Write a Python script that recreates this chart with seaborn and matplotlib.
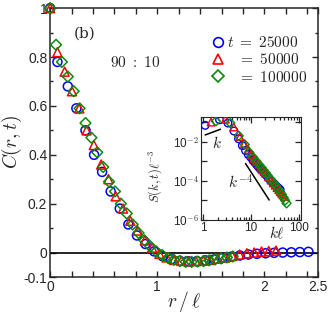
import numpy as np
import pandas as pd
import seaborn as sns
import matplotlib
matplotlib.use('Agg')
import matplotlib.pyplot as plt
from matplotlib.lines import Line2D

# ---------------- data ----------------
# main panel: C(r,t) vs r/l
r_25k = [0, 0.068, 0.165, 0.245, 0.33, 0.41, 0.485, 0.565, 0.65, 0.73, 0.81, 0.89, 0.97,
         1.05, 1.13, 1.21, 1.29, 1.37, 1.45, 1.53, 1.61, 1.69, 1.77, 1.85, 1.93, 2.01,
         2.09, 2.17, 2.25, 2.33, 2.41]
C_25k = [1.0, 0.78, 0.68, 0.59, 0.50, 0.40, 0.33, 0.25, 0.18, 0.115, 0.07, 0.035, 0.005,
         -0.015, -0.028, -0.034, -0.036, -0.035, -0.032, -0.028, -0.022, -0.017, -0.012,
         -0.008, -0.005, -0.003, -0.001, 0.0, 0.001, 0.002, 0.003]

r_50k = [0, 0.068, 0.136, 0.204, 0.272, 0.34, 0.408, 0.476, 0.544, 0.612, 0.68, 0.748,
         0.816, 0.884, 0.952, 1.02, 1.088, 1.156, 1.224, 1.292, 1.36, 1.428, 1.496, 1.564,
         1.632, 1.70, 1.768, 1.836, 1.904, 1.972, 2.04, 2.108]
C_50k = [1.0, 0.82, 0.74, 0.66, 0.59, 0.50, 0.44, 0.36, 0.30, 0.23, 0.18, 0.13, 0.09,
         0.05, 0.02, -0.005, -0.02, -0.03, -0.034, -0.036, -0.035, -0.033, -0.03, -0.025,
         -0.02, -0.014, -0.008, -0.003, 0.0, 0.004, 0.006, 0.008]

r_100k = [0, 0.055, 0.11, 0.165, 0.22, 0.275, 0.33, 0.385, 0.44, 0.495, 0.55, 0.605, 0.66,
          0.715, 0.77, 0.825, 0.88, 0.935, 0.99, 1.045, 1.10, 1.155, 1.21, 1.265, 1.32,
          1.375, 1.43, 1.485, 1.54, 1.595, 1.65, 1.705]
C_100k = [1.0, 0.85, 0.78, 0.72, 0.66, 0.59, 0.53, 0.47, 0.41, 0.35, 0.29, 0.25, 0.20,
          0.16, 0.115, 0.08, 0.05, 0.025, 0.005, -0.01, -0.022, -0.03, -0.035, -0.038,
          -0.038, -0.037, -0.035, -0.032, -0.028, -0.024, -0.02, -0.016]

# inset: S(k,t) l^-3 vs k l
k_25k = [1.1, 2.2, 3.3, 4.4, 5.5, 6.6, 7.7, 8.8, 9.9, 11, 12.1, 13.2, 14.3, 15.4, 16.5,
         18.7, 20.9, 23.1, 25.3, 27.5, 29.7, 31.9, 34.1, 36.3, 38.5, 40.7]
S_25k = [6.8e-2, 1.3e-1, 8.9e-2, 3.5e-2, 1.4e-2, 6.3e-3, 3.5e-3, 2.2e-3, 1.6e-3, 1.1e-3,
         8.5e-4, 6.6e-4, 5.2e-4, 4.3e-4, 3.5e-4, 2.5e-4, 1.9e-4, 1.4e-4, 1.1e-4, 8.9e-5,
         7.4e-5, 6.3e-5, 5.2e-5, 4.5e-5, 4.0e-5, 3.5e-5]

k_50k = [1.46, 2.92, 4.38, 5.84, 7.3, 8.76, 10.2, 11.7, 13.1, 14.6, 16.1, 17.5, 19.0, 20.4,
         23.4, 26.3, 29.2, 32.1, 35.0, 38.0, 40.9, 43.8, 46.7, 49.6]
S_50k = [1.0e-1, 1.4e-1, 5.6e-2, 1.8e-2, 7.9e-3, 4.0e-3, 2.2e-3, 1.4e-3, 1.0e-3, 7.1e-4,
         5.0e-4, 3.8e-4, 3.0e-4, 2.4e-4, 1.6e-4, 1.1e-4, 7.9e-5, 6.0e-5, 4.5e-5, 3.5e-5,
         2.8e-5, 2.3e-5, 1.9e-5, 1.6e-5]

k_100k = [1.85, 3.7, 5.55, 7.4, 9.25, 11.1, 12.95, 14.8, 16.65, 18.5, 20.35, 22.2, 25.9,
          29.6, 33.3, 37.0, 40.7, 44.4, 48.1, 51.8, 55.5]
S_100k = [1.1e-1, 8.9e-2, 2.0e-2, 7.1e-3, 2.8e-3, 1.6e-3, 1.0e-3, 6.6e-4, 4.7e-4, 3.4e-4,
          2.5e-4, 1.9e-4, 1.2e-4, 7.9e-5, 5.4e-5, 3.8e-5, 2.7e-5, 2.0e-5, 1.4e-5, 1.0e-5,
          7.1e-6]

labels = [r'$t\ =\ 25000$', r'$\ \,\ =\ 50000$', r'$\ \,\ =\ 100000$']
colors = ['#0000ff', '#ff0000', '#0a8a0a']
markers = ['o', '^', 'D']

# guide lines in the inset (k and k^-4)
guide_k_x = [1.1, 2.3]
guide_k_y = [2.2e-2, 4.3e-2]
guide_k4_x = [7.7, 24]
guide_k4_y = [7.6e-4, 1.05e-5]

#-----------------------------------------------------------------------------------------------------------------
sns.set_style('ticks')
plt.rcParams['font.family'] = ['Liberation Sans', 'DejaVu Sans']
plt.rcParams['mathtext.fontset'] = 'cm'
plt.rcParams['xtick.direction'] = 'in'
plt.rcParams['ytick.direction'] = 'in'

main_df = pd.concat([
    pd.DataFrame({'r': r_25k, 'C': C_25k, 'set': labels[0]}),
    pd.DataFrame({'r': r_50k, 'C': C_50k, 'set': labels[1]}),
    pd.DataFrame({'r': r_100k, 'C': C_100k, 'set': labels[2]}),
])
inset_df = pd.concat([
    pd.DataFrame({'k': k_25k, 'S': S_25k, 'set': labels[0]}),
    pd.DataFrame({'k': k_50k, 'S': S_50k, 'set': labels[1]}),
    pd.DataFrame({'k': k_100k, 'S': S_100k, 'set': labels[2]}),
])

fig = plt.figure(figsize=(3.32, 3.13), dpi=100)
ax = fig.add_axes([0.151, 0.115, 0.807, 0.859])

ax.axhline(0, color='black', lw=1.2, zorder=1)
for lab, col, mk in zip(labels, colors, markers):
    d = main_df[main_df['set'] == lab]
    sns.scatterplot(data=d, x='r', y='C', ax=ax, marker=mk, s=42 if mk != 'D' else 30,
                    facecolors='none', edgecolor=col, linewidth=1.1, zorder=3, clip_on=False)

ax.set_xlim(0, 2.5)
ax.set_ylim(-0.1, 1.0)
xt = [0, 0.2, 0.4, 0.6, 0.8, 1.0, 1.2, 1.4, 1.6, 1.8, 2.0, 2.2, 2.4, 2.5]
xl = ['0', '', '', '', '', '1', '', '', '', '', '2', '', '', '2.5']
ax.set_xticks(xt)
ax.set_xticklabels(xl)
ax.set_yticks([-0.1, 0, 0.2, 0.4, 0.6, 0.8, 1.0])
ax.set_yticklabels(['-0.1', '0', '0.2', '0.4', '0.6', '0.8', '1'])
ax.set_yticks([0.1, 0.3, 0.5, 0.7, 0.9], minor=True)
ax.tick_params(which='both', top=True, right=True, labelsize=10, width=1, pad=2)
ax.tick_params(which='major', length=4)
ax.tick_params(which='minor', length=2.5)
for s in ax.spines.values():
    s.set_linewidth(1.1)
ax.set_xlabel(r'$r\,/\,\ell$', fontsize=14)
ax.xaxis.set_label_coords(0.5, -0.045)
ax.set_ylabel(r'$C(r,t)$', fontsize=14, labelpad=0)

ax.text(0.09, 0.89, '(b)', transform=ax.transAxes, fontsize=11, family='DejaVu Serif')
ax.text(0.225, 0.78, r'$\mathbf{90\ :\ 10}$', transform=ax.transAxes, fontsize=11)

handles = [Line2D([], [], ls='none', marker=m, mfc='none', mec=c, mew=1.2,
                  ms=7 if m != 'D' else 6) for m, c in zip(markers, colors)]
ax.legend(handles, labels, loc='upper right', frameon=False, fontsize=11,
          handletextpad=0.0, labelspacing=0.15, borderaxespad=0.3,
          bbox_to_anchor=(1.0, 0.94), handlelength=1.2)

#-----------------------------------------------------------------------------------------------------------------
ins = fig.add_axes([0.604, 0.297, 0.302, 0.329])
for lab, col, mk in zip(labels, colors, markers):
    d = inset_df[inset_df['set'] == lab]
    sns.scatterplot(data=d, x='k', y='S', ax=ins, marker=mk, s=30 if mk != 'D' else 21,
                    facecolors='none', edgecolor=col, linewidth=1.0, zorder=3)
ins.plot(guide_k_x, guide_k_y, color='black', lw=1.1)
ins.plot(guide_k4_x, guide_k4_y, color='black', lw=1.1)
ins.set_xscale('log')
ins.set_yscale('log')
ins.set_xlim(0.88, 110)
ins.set_ylim(1e-6, 0.18)
ins.set_xticks([1, 10, 100])
ins.set_xticklabels(['1', '10', '100'])
ins.set_yticks([1e-6, 1e-5, 1e-4, 1e-3, 1e-2, 1e-1])
ins.set_yticklabels([r'10$^{-6}$', '', r'10$^{-4}$', '', r'10$^{-2}$', ''])
ins.tick_params(which='both', top=True, right=True, labelsize=8.5, width=0.9, pad=1.5)
ins.tick_params(which='major', length=4)
ins.tick_params(which='minor', length=2)
ins.set_xlabel('')
ins.set_ylabel(r'$S(k,t)\ell^{-3}$', fontsize=9, labelpad=0)
ins.yaxis.set_label_coords(-0.36, 0.42)
ins.text(0.76, -0.13, r'$k\ell$', transform=ins.transAxes, fontsize=11, ha='center', va='center')
ins.text(1.9, 9e-3, r'$k$', fontsize=11, ha='center', va='center')
ins.text(6.0, 8e-5, r'$k^{-4}$', fontsize=11, ha='center', va='center')

plt.savefig('out.png', dpi=100)
